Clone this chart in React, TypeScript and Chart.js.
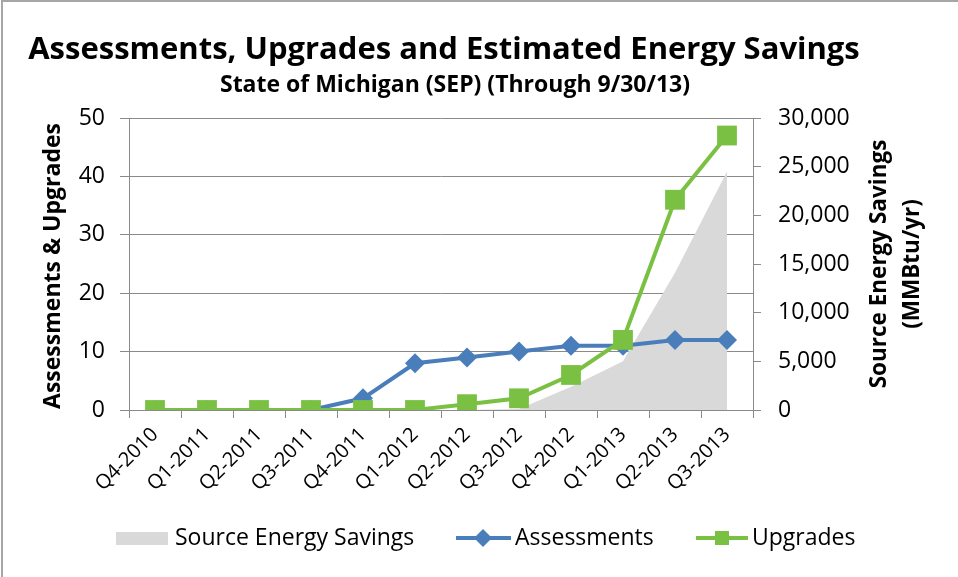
import React, { useEffect, useRef } from "react";
import { Chart, registerables } from "chart.js";

Chart.register(...registerables);

const categories = [
  "Q4-2010", "Q1-2011", "Q2-2011", "Q3-2011", "Q4-2011", "Q1-2012",
  "Q2-2012", "Q3-2012", "Q4-2012", "Q1-2013", "Q2-2013", "Q3-2013",
];
const sourceEnergySavings = [0, 0, 0, 0, 0, 0, 0, 100, 2400, 5000, 14100, 24500];
const assessments = [0, 0, 0, 0, 2, 8, 9, 10, 11, 11, 12, 12];
const upgrades = [0, 0, 0, 0, 0, 0, 1, 2, 6, 12, 36, 47];
const leftTicks = [0, 10, 20, 30, 40, 50];
const rightTicks = [0, 5000, 10000, 15000, 20000, 25000, 30000];

const TITLE = "Assessments, Upgrades and Estimated Energy Savings";
const SUBTITLE = "State of Michigan (SEP) (Through 9/30/13)";
const LEFT_TITLE = "Assessments & Upgrades";
const RIGHT_TITLE = ["Source Energy Savings", "(MMBtu/yr)"];
const LEGEND = ["Source Energy Savings", "Assessments", "Upgrades"];

const FONT = "'Open Sans', Lato, sans-serif";
const BLUE = "#4a7ebb";
const GREEN = "#7ac143";
const AREA = "#d9d9d9";
const GRID = "#8a8a8a";

const decor = {
  id: "decor",
  beforeDraw(chart: any) {
    const ctx = chart.ctx;
    ctx.save();
    ctx.fillStyle = "#ffffff";
    ctx.fillRect(0, 0, chart.width, chart.height);
    ctx.strokeStyle = "#a6a6a6";
    ctx.lineWidth = 2;
    ctx.beginPath();
    ctx.moveTo(2, chart.height);
    ctx.lineTo(2, 1);
    ctx.lineTo(chart.width, 1);
    ctx.stroke();
    ctx.restore();
  },
  afterDraw(chart: any) {
    const ctx = chart.ctx;
    ctx.save();
    ctx.fillStyle = "#000000";
    ctx.textAlign = "center";
    ctx.textBaseline = "middle";
    ctx.font = `bold 31px ${FONT}`;
    ctx.fillText(TITLE, 444, 50);
    ctx.font = `bold 23px ${FONT}`;
    ctx.fillText(SUBTITLE, 455, 85);

    // left axis title
    ctx.font = `bold 23px ${FONT}`;
    ctx.save();
    ctx.translate(53, 266);
    ctx.rotate(-Math.PI / 2);
    ctx.fillText(LEFT_TITLE, 0, 0);
    ctx.restore();

    // right axis title (two lines, reading upward)
    ctx.font = `bold 22.5px ${FONT}`;
    ctx.save();
    ctx.translate(880, 264);
    ctx.rotate(-Math.PI / 2);
    ctx.fillText(RIGHT_TITLE[0], 0, 0);
    ctx.fillText(RIGHT_TITLE[1], 0, 33);
    ctx.restore();

    // legend
    const ly = 538;
    ctx.font = `23px ${FONT}`;
    ctx.textAlign = "left";
    ctx.fillStyle = AREA;
    ctx.fillRect(116, ly - 6, 52, 13);
    ctx.fillStyle = "#000";
    ctx.fillText(LEGEND[0], 175, ly);

    ctx.strokeStyle = BLUE;
    ctx.lineWidth = 4;
    ctx.beginPath();
    ctx.moveTo(456, ly);
    ctx.lineTo(511, ly);
    ctx.stroke();
    ctx.fillStyle = BLUE;
    ctx.beginPath();
    ctx.moveTo(483, ly - 9);
    ctx.lineTo(492, ly);
    ctx.lineTo(483, ly + 9);
    ctx.lineTo(474, ly);
    ctx.closePath();
    ctx.fill();
    ctx.fillStyle = "#000";
    ctx.fillText(LEGEND[1], 515, ly);

    ctx.strokeStyle = GREEN;
    ctx.beginPath();
    ctx.moveTo(696, ly);
    ctx.lineTo(748, ly);
    ctx.stroke();
    ctx.fillStyle = GREEN;
    ctx.fillRect(715, ly - 7, 14, 14);
    ctx.fillStyle = "#000";
    ctx.fillText(LEGEND[2], 752, ly);
    ctx.restore();
  },
};

export default function App() {
  const ref = useRef<HTMLCanvasElement | null>(null);
  useEffect(() => {
    if (!ref.current) return;
    const chart = new Chart(ref.current, {
      type: "line",
      data: {
        labels: categories,
        datasets: [
          {
            label: LEGEND[0],
            data: sourceEnergySavings,
            yAxisID: "y1",
            fill: "origin",
            backgroundColor: AREA,
            borderWidth: 0,
            borderColor: "rgba(0,0,0,0)",
            pointRadius: 0,
            tension: 0,
            order: 2,
          },
          {
            label: LEGEND[1],
            data: assessments,
            yAxisID: "y",
            borderColor: BLUE,
            backgroundColor: BLUE,
            borderWidth: 4,
            pointStyle: "rectRot",
            pointRadius: 10,
            pointBorderWidth: 0,
            pointBackgroundColor: BLUE,
            fill: false,
            order: 1,
          },
          {
            label: LEGEND[2],
            data: upgrades,
            yAxisID: "y",
            borderColor: GREEN,
            backgroundColor: GREEN,
            borderWidth: 4,
            pointStyle: "rect",
            pointRadius: 14,
            pointBorderWidth: 0,
            pointBackgroundColor: GREEN,
            fill: false,
            order: 0,
          },
        ],
      },
      options: {
        animation: false,
        responsive: false,
        layout: { padding: { top: 118, left: 0, right: 0, bottom: 77 } },
        plugins: {
          legend: { display: false },
          title: { display: false },
          tooltip: { enabled: false },
        },
        scales: {
          x: {
            type: "category",
            offset: true,
            afterFit: (s: any) => { s.height = 90; },
            grid: {
              offset: true,
              drawOnChartArea: false,
              drawTicks: true,
              tickLength: 8,
              color: GRID,
            },
            border: { display: true, color: GRID, width: 1 },
            ticks: {
              autoSkip: false,
              minRotation: 45,
              maxRotation: 45,
              padding: 5,
              color: "#000",
              font: { family: FONT, size: 20 },
            },
          },
          y: {
            position: "left",
            min: 0,
            max: 50,
            afterFit: (s: any) => { s.width = 129; },
            afterBuildTicks: (s: any) => { s.ticks = leftTicks.map((v) => ({ value: v })); },
            grid: { color: GRID, tickLength: 9, lineWidth: 1 },
            border: { display: true, color: GRID, width: 1 },
            ticks: {
              padding: 15,
              color: "#000",
              font: { family: FONT, size: 23 },
            },
          },
          y1: {
            position: "right",
            min: 0,
            max: 30000,
            afterFit: (s: any) => { s.width = 205; },
            afterBuildTicks: (s: any) => { s.ticks = rightTicks.map((v) => ({ value: v })); },
            grid: { drawOnChartArea: false, color: GRID, tickLength: 8 },
            border: { display: true, color: GRID, width: 1 },
            ticks: {
              padding: 17,
              color: "#000",
              font: { family: FONT, size: 23 },
              callback: (v: any) => Number(v).toLocaleString("en-US"),
            },
          },
        },
      },
      plugins: [decor],
    });
    return () => chart.destroy();
  }, []);
  return (
    <div style={{ position: "absolute", left: 0, top: 0, width: 958, height: 577 }}>
      <canvas ref={ref} width={958} height={577} style={{ display: "block" }} />
    </div>
  );
}
